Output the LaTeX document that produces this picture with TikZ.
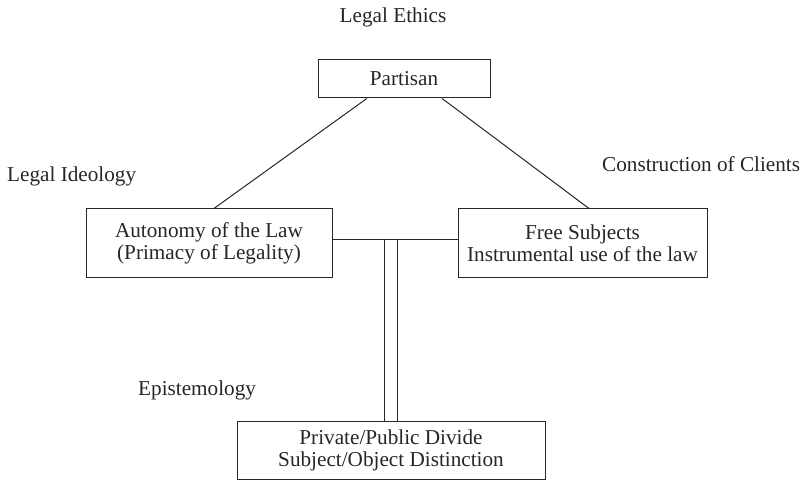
\documentclass[tikz,border=0pt]{standalone}
\usepackage{fontspec}
\setmainfont{Liberation Serif}
\usetikzlibrary{calc}
\begin{document}
\begin{tikzpicture}[x=1pt,y=-1pt,
  every node/.style={font=\fontsize{21.2}{22}\selectfont, text=black!85},
  boxnode/.style={draw=black!85, line width=1pt, inner sep=0pt, align=center},
  conn/.style={draw=black!85, line width=1pt},
  lbl/.style={inner sep=0pt}]
\useasboundingbox (0,0) rectangle (808,486);
% boxes
\node[boxnode, minimum width=172pt, minimum height=38pt] (p) at (404,79) {Partisan};
\node[boxnode, minimum width=246pt, minimum height=68pt] (l) at (209,243) {Autonomy of the Law\\(Primacy of Legality)};
\node[boxnode, minimum width=249pt, minimum height=68pt] (r) at (582.5,243) {Free Subjects\\Instrumental use of the law};
\node[boxnode, minimum width=308pt, minimum height=58pt] (b) at (391,450) {Private/Public Divide\\Subject/Object Distinction};
% labels
\node[lbl, anchor=base] (le) at (393,23) {Legal Ethics};
\node[lbl, anchor=base west] (li) at (7,182) {Legal Ideology};
\node[lbl, anchor=base west] (cc) at (602,172) {Construction of Clients};
\node[lbl, anchor=base west] (ep) at (138,395) {Epistemology};
% connectors
\draw[conn] ($(p.south west)!0.285!(p.south east)$) -- ($(l.north west)!0.52!(l.north east)$);
\draw[conn] ($(p.south west)!0.72!(p.south east)$) -- ($(r.north west)!0.526!(r.north east)$);
\coordinate (h) at ($(l.north east)!0.456!(l.south east)$);
\draw[conn] (h) -- (r.west |- h);
\coordinate (v1) at ($(b.north)+(-6.5,0)$);
\coordinate (v2) at ($(b.north)+(6.5,0)$);
\draw[conn] (v1) -- (v1 |- h);
\draw[conn] (v2) -- (v2 |- h);
\end{tikzpicture}
\end{document}
